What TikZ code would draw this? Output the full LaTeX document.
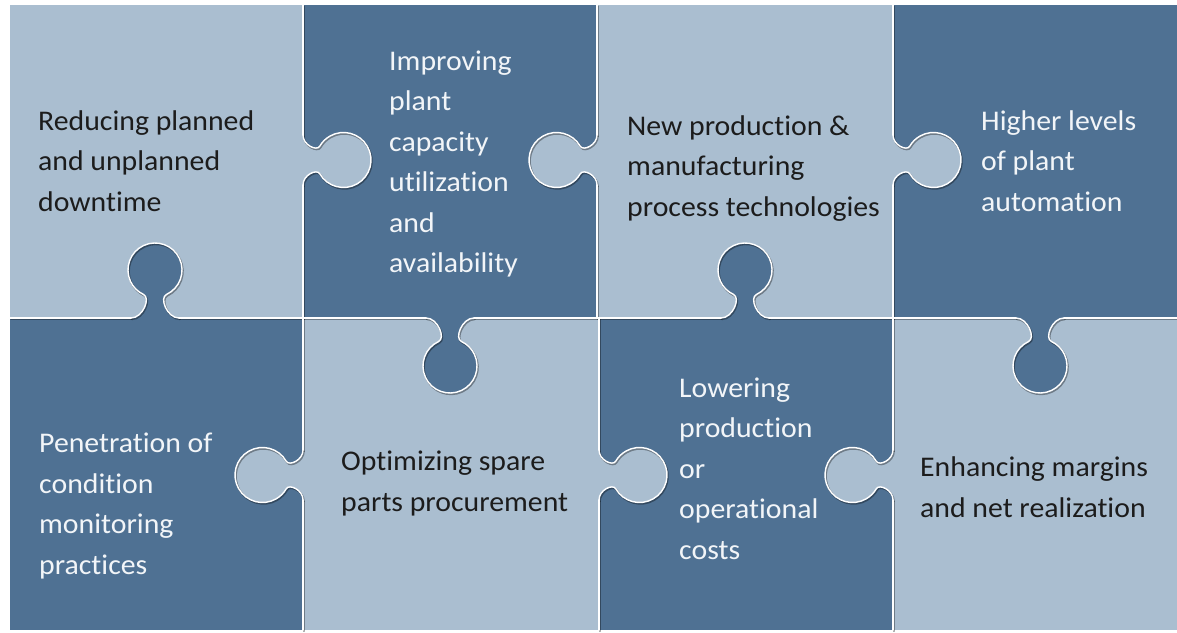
\documentclass[tikz,border=0pt]{standalone}
\usepackage{fontspec}
\setmainfont{Carlito}[Ligatures=NoCommon, FakeStretch=1.045]
\definecolor{lightp}{HTML}{AABED0}
\definecolor{darkp}{HTML}{4F7193}
\definecolor{darktxt}{HTML}{1C1C1C}
\definecolor{lighttxt}{HTML}{F2F5F8}
% c, r, theta, k, b, d
\newcommand{\tabcurve}[6]{(0,-#5) .. controls (0,{-#5+#6}) and ({#1+#2*cos(#3)+#4*sin(#3)},{#2*sin(#3)-#4*cos(#3)}) .. ({#1+#2*cos(#3)},{#2*sin(#3)}) arc[start angle=#3, end angle=-#3, radius=#2] .. controls ({#1+#2*cos(#3)+#4*sin(#3)},{-#2*sin(#3)+#4*cos(#3)}) and (0,{#5-#6}) .. (0,#5)}
\newcommand{\hcurve}{\tabcurve{40.5}{27.5}{-150}{6}{25}{10}}
\newcommand{\vcurve}{\tabcurve{48}{27}{-155}{8}{24}{12}}
\newcommand{\htabfill}[3]{\begin{scope}[shift={(#1,#2)},rotate=#3]\fill[lightp] \hcurve -- (-3,25) -- (-3,-25) -- cycle;\end{scope}}
\newcommand{\vtabfill}[3]{\begin{scope}[shift={(#1,#2)},rotate=#3]\fill[darkp] \vcurve -- (-3,24) -- (-3,-24) -- cycle;\end{scope}}
\newcommand{\htabedge}[4]{\begin{scope}[shift={(#1,#2)},rotate=#3]\draw[#4] \hcurve;\end{scope}}
\newcommand{\vtabedge}[4]{\begin{scope}[shift={(#1,#2)},rotate=#3]\draw[#4] \vcurve;\end{scope}}
\newcommand{\alledges}[1]{%
  % vertical boundaries, top row
  \draw[#1] (303,627) -- (303,497) (303,447) -- (303,314);
  \draw[#1] (597,627) -- (597,497) (597,447) -- (597,314);
  \draw[#1] (893,627) -- (893,497) (893,447) -- (893,314);
  % vertical boundaries, bottom row
  \draw[#1] (303,314) -- (303,182) (303,132) -- (303,2);
  \draw[#1] (599,314) -- (599,182) (599,132) -- (599,2);
  \draw[#1] (893,314) -- (893,182) (893,132) -- (893,2);
  % horizontal boundary
  \draw[#1] (10,314) -- (131,314) (179,314) -- (426,314) (474,314) -- (721,314) (769,314) -- (1016,314) (1064,314) -- (1177,314);
  \htabedge{303}{472}{0}{#1}
  \htabedge{597}{472}{180}{#1}
  \htabedge{893}{472}{0}{#1}
  \htabedge{303}{157}{180}{#1}
  \htabedge{599}{157}{0}{#1}
  \htabedge{893}{157}{180}{#1}
  \vtabedge{155}{314}{90}{#1}
  \vtabedge{450}{314}{-90}{#1}
  \vtabedge{745}{314}{90}{#1}
  \vtabedge{1040}{314}{-90}{#1}
}
\tikzset{
  edgeline/.style={draw=white, line width=1.4pt, line cap=round},
  shadowline/.style={draw=black, draw opacity=0.35, line width=1.8pt, line cap=round},
  txt/.style={anchor=north west, inner sep=0pt, align=left, font=\fontsize{28.5}{40.5}\selectfont},
  dtxt/.style={txt, text=darktxt},
  ltxt/.style={txt, text=lighttxt}
}
\newcommand{\fl}{\rule{0pt}{22pt}}
\begin{document}
\begin{tikzpicture}[x=1pt,y=1pt]
\useasboundingbox (0,0) rectangle (1177,632);
\fill[white] (0,0) rectangle (1177,632);
% pieces
\fill[lightp] (10,314) rectangle (303,627);
\fill[darkp] (303,314) rectangle (597,627);
\fill[lightp] (597,314) rectangle (893,627);
\fill[darkp] (893,314) rectangle (1177,627);
\fill[darkp] (10,2) rectangle (303,314);
\fill[lightp] (303,2) rectangle (599,314);
\fill[darkp] (599,2) rectangle (893,314);
\fill[lightp] (893,2) rectangle (1177,314);
% tabs
\htabfill{303}{472}{0}
\htabfill{597}{472}{180}
\htabfill{893}{472}{0}
\htabfill{303}{157}{180}
\htabfill{599}{157}{0}
\htabfill{893}{157}{180}
\vtabfill{155}{314}{90}
\vtabfill{450}{314}{-90}
\vtabfill{745}{314}{90}
\vtabfill{1040}{314}{-90}
% edges
\begin{scope}[shift={(0.9,-1.3)}]
\alledges{shadowline}
\end{scope}
\alledges{edgeline}
% texts
\node[dtxt] (t1) at (38,{632-130+22}) {\fl Reducing planned\\and unplanned\\downtime};
\node[ltxt] (t2) at (389,{632-70+22}) {\fl Improving\\plant\\capacity\\utilization\\and\\availability};
\node[dtxt] (t3) at (627,{632-135+22}) {\fl New production \&\\manufacturing\\process technologies};
\node[ltxt] (t4) at (981,{632-130+22}) {\fl Higher levels\\of plant\\automation};
\node[ltxt] (t5) at (39,{632-452.5+22}) {\fl Penetration of\\condition\\monitoring\\practices};
\node[dtxt] (t6) at (341,{632-470.5+22}) {\fl Optimizing spare\\parts procurement};
\node[ltxt] (t7) at (679,{632-397+22}) {\fl Lowering\\production\\or\\operational\\costs};
\node[dtxt] (t8) at (920,{632-476.5+22}) {\fl Enhancing margins\\and net realization};
\end{tikzpicture}
\end{document}
